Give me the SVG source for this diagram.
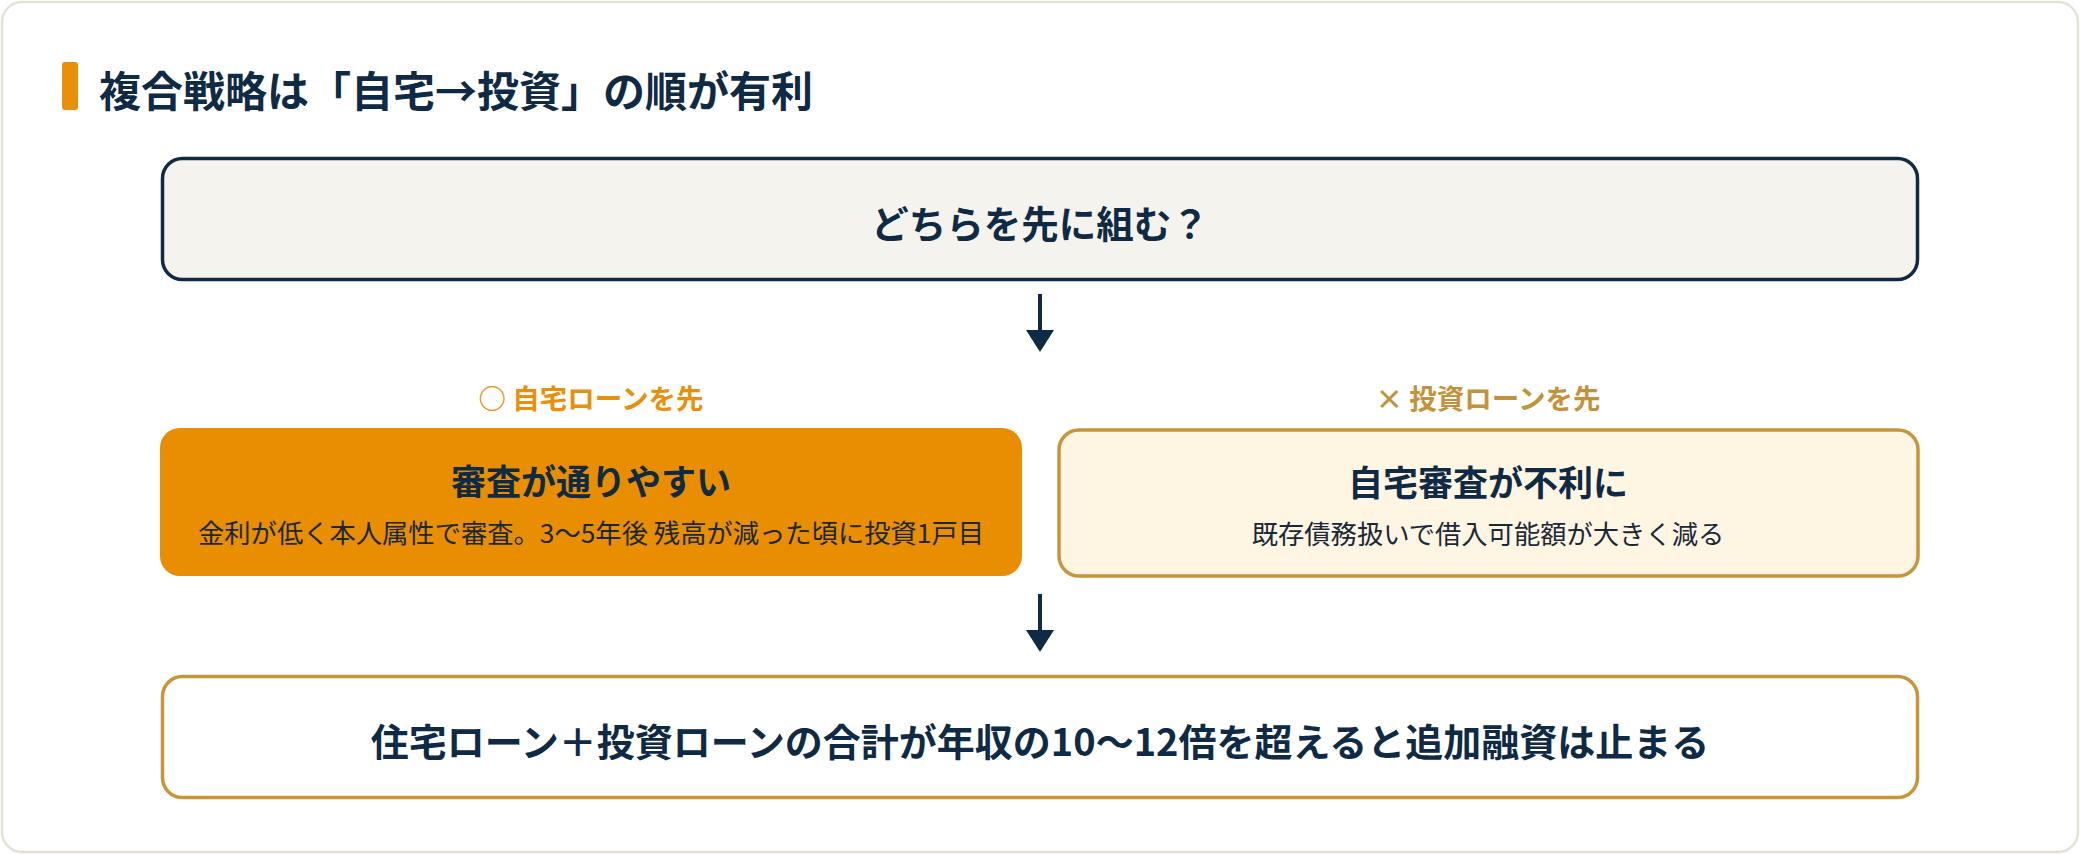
<svg xmlns="http://www.w3.org/2000/svg" width="2080" height="854" viewBox="0 0 2080 854">
  <defs>
    <style>
      text { font-family: "Noto Sans CJK JP", "Noto Sans", sans-serif; }
      .navy { fill: #0f2a44; }
      .b { font-weight: 700; }
      .mid { text-anchor: middle; }
    </style>
  </defs>
  <rect x="0" y="0" width="2080" height="854" fill="#ffffff"/>
  <rect x="2" y="2" width="2076" height="850" rx="20" fill="#ffffff" stroke="#e5e2d8" stroke-width="2.5"/>

  <g id="title">
    <rect x="62" y="62" width="16" height="48" rx="3" fill="#e8900a"/>
    <text x="99" y="107" font-size="42" class="navy b">複合戦略は「自宅→投資」の順が有利</text>
  </g>

  <g id="question">
    <rect x="162.5" y="158.5" width="1755" height="121" rx="20" fill="#f5f3ee" stroke="#0f2a44" stroke-width="3.5"/>
    <text x="1040" y="238" font-size="37.5" class="navy b mid">どちらを先に組む？</text>
  </g>

  <g id="label-home">
    <text x="591" y="409" font-size="27.5" class="b mid" fill="#e8900a">○ 自宅ローンを先</text>
  </g>
  <g id="label-invest">
    <text x="1488" y="409" font-size="27.5" class="b mid" fill="#c4923a">× 投資ローンを先</text>
  </g>

  <g id="home-first">
    <rect x="160" y="428" width="862" height="148" rx="20" fill="#e88e00"/>
    <text x="591" y="495" font-size="35" class="navy b mid">審査が通りやすい</text>
    <text x="591" y="543" font-size="26.3" class="mid" fill="#1a2838">金利が低く本人属性で審査。3〜5年後 残高が減った頃に投資1戸目</text>
  </g>

  <g id="invest-first">
    <rect x="1059" y="430" width="859" height="146" rx="20" fill="#fff5e3" stroke="#c8953a" stroke-width="3.5"/>
    <text x="1488" y="496" font-size="35" class="navy b mid">自宅審査が不利に</text>
    <text x="1488" y="544" font-size="26.3" class="mid" fill="#1a2838">既存債務扱いで借入可能額が大きく減る</text>
  </g>

  <g id="result">
    <rect x="162.5" y="676.5" width="1755" height="121" rx="20" fill="#ffffff" stroke="#c8953a" stroke-width="3.5"/>
    <text x="1040" y="756" font-size="38" class="navy b mid">住宅ローン＋投資ローンの合計が年収の10〜12倍を超えると追加融資は止まる</text>
  </g>

  <g id="connectors" stroke="#0f2a44" fill="#0f2a44">
    <line x1="1040" y1="294" x2="1040" y2="332" stroke-width="4"/>
    <polygon points="1026,330 1054,330 1040,352" stroke="none"/>
    <line x1="1040" y1="594" x2="1040" y2="632" stroke-width="4"/>
    <polygon points="1026,630 1054,630 1040,652" stroke="none"/>
  </g>
</svg>
